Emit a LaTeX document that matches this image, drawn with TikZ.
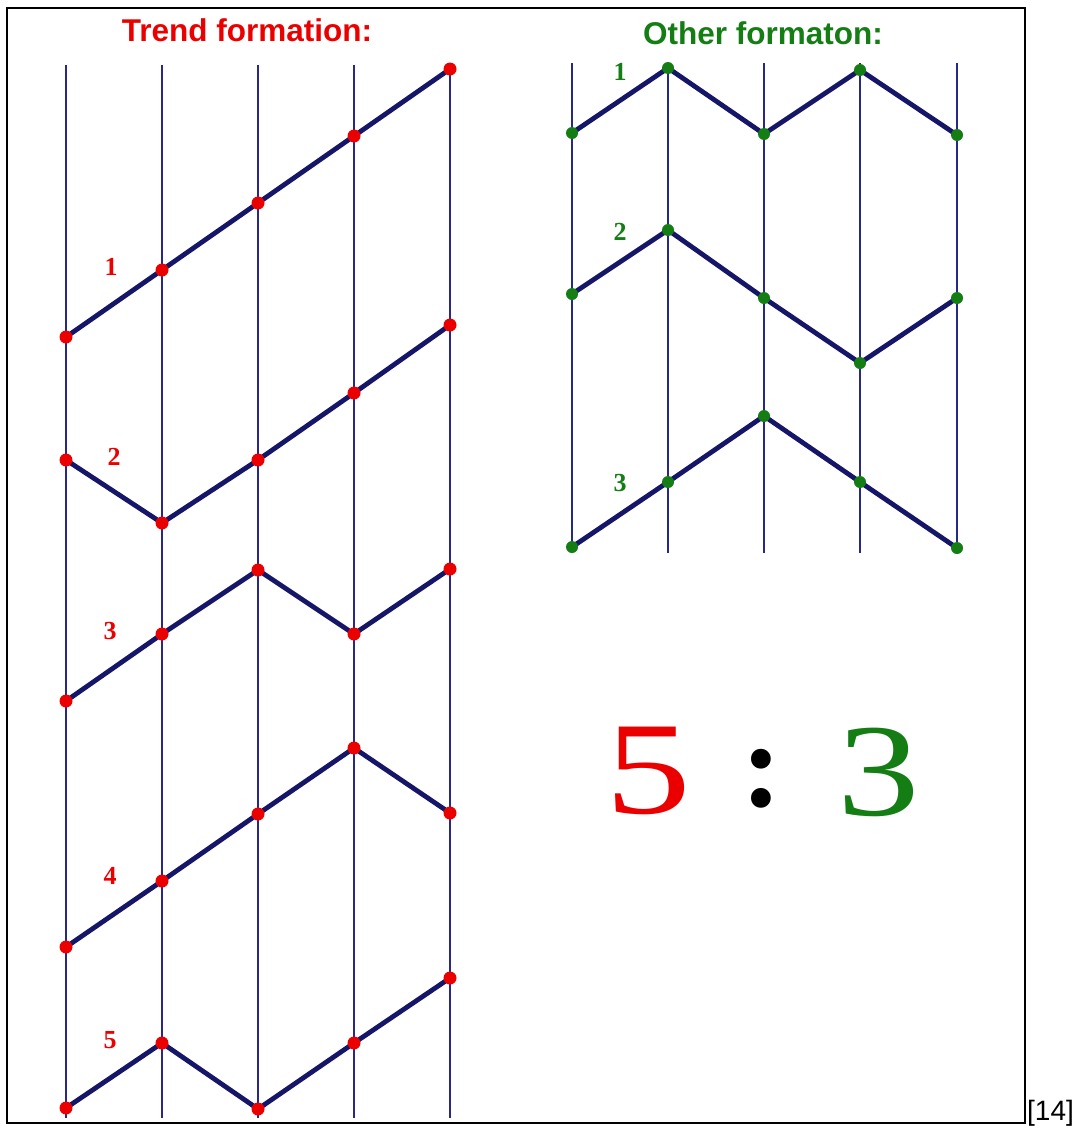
\documentclass[tikz,border=0pt]{standalone}
\usepackage{fontspec}
\setmainfont{Liberation Serif}
\newfontfamily\arialf{Liberation Sans}
\definecolor{navy}{RGB}{22,22,105}
\definecolor{vline}{RGB}{40,40,135}
\definecolor{tred}{RGB}{235,0,0}
\definecolor{ogreen}{RGB}{20,125,20}
\begin{document}
\begin{tikzpicture}[x=1pt,y=-1pt,
  vgrid/.style={vline,line width=1.5pt},
  trend/.style={navy,line width=4.8pt,line join=round,line cap=round},
  rdot/.style={circle,fill=tred,inner sep=0pt,minimum width=13pt,minimum height=11pt},
  gdot/.style={circle,fill=ogreen,inner sep=0pt,minimum width=12pt,minimum height=10pt},
  title/.style={font=\arialf\bfseries\fontsize{31.5}{34}\selectfont},
  numlab/.style={font=\bfseries\fontsize{26}{28}\selectfont}]
\useasboundingbox (0,0) rectangle (1080,1130);
\fill[white] (0,0) rectangle (1080,1130);
\draw[black,line width=2pt] (7,8) rectangle (1025,1123);
% titles
\node[title,text=tred] (ttitle) at (247,30) {Trend formation:};
\node[title,text=ogreen] (otitle) at (763,33) {Other formaton:};
% vertical lines, left panel
\foreach \x [count=\i] in {66,162,258,354,450}{
  \coordinate (lt\i) at (\x,65);
  \coordinate (lb\i) at (\x,1118);
  \draw[vgrid] (lt\i) -- (lb\i);
}
% vertical lines, right panel
\foreach \x [count=\i] in {572,668,764,860,957}{
  \coordinate (rt\i) at (\x,63);
  \coordinate (rb\i) at (\x,553);
  \draw[vgrid] (rt\i) -- (rb\i);
}
% trend patterns
\foreach \ys [count=\p] in {{337,270,203,136,69},{460,523,460,393,325},{701,634,570,634,569},{947,881,814,748,813},{1108,1043,1109,1043,978}}{
  \foreach \y [count=\i] in \ys {
    \pgfmathsetmacro{\xx}{{66,162,258,354,450}[\i-1]}
    \coordinate (t\p-\i) at (\xx,\y);
  }
  \draw[trend] (t\p-1) -- (t\p-2) -- (t\p-3) -- (t\p-4) -- (t\p-5);
  \foreach \i in {1,...,5}{ \node[rdot] (dt\p-\i) at (t\p-\i) {}; }
}
% other patterns
\foreach \ys [count=\p] in {{133,68,134,70,135},{294,230,298,363,298},{547,482,416,482,548}}{
  \foreach \y [count=\i] in \ys {
    \pgfmathsetmacro{\xx}{{572,668,764,860,957}[\i-1]}
    \coordinate (o\p-\i) at (\xx,\y);
  }
  \draw[trend] (o\p-1) -- (o\p-2) -- (o\p-3) -- (o\p-4) -- (o\p-5);
  \foreach \i in {1,...,5}{ \node[gdot] (do\p-\i) at (o\p-\i) {}; }
}
% labels
\node[numlab,text=tred] (l1) at (111,267) {1};
\node[numlab,text=tred] (l2) at (114,457) {2};
\node[numlab,text=tred] (l3) at (110,631) {3};
\node[numlab,text=tred] (l4) at (110,876) {4};
\node[numlab,text=tred] (l5) at (110,1040) {5};
\node[numlab,text=ogreen] (m1) at (620,72) {1};
\node[numlab,text=ogreen] (m2) at (620,232) {2};
\node[numlab,text=ogreen] (m3) at (620,483) {3};
% ratio
\node[text=tred,font=\fontsize{132}{140}\selectfont,anchor=base,xscale=1.3] (r5) at (648,813) {5};
\node[font=\bfseries\fontsize{122}{130}\selectfont,anchor=base] (rc) at (762,806) {:};
\node[text=ogreen,font=\fontsize{132}{140}\selectfont,anchor=base,xscale=1.25] (r3) at (879,815) {3};
% reference
\node[font=\arialf\fontsize{28}{30}\selectfont,anchor=base west,inner sep=0pt] (ref) at (1027,1120) {[14]};
\end{tikzpicture}
\end{document}
